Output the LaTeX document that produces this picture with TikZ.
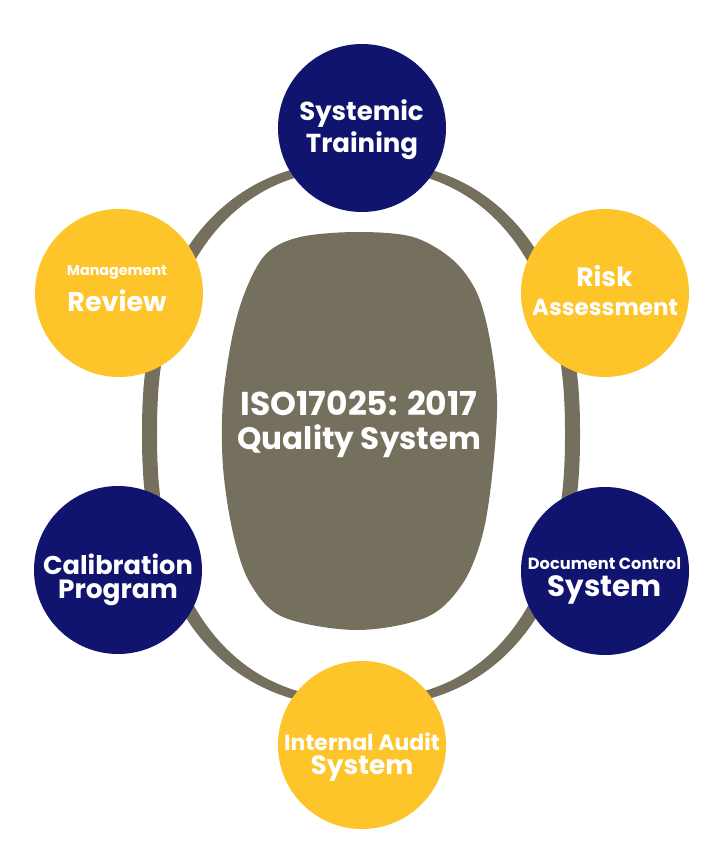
\documentclass[tikz,border=0pt]{standalone}
\usepackage{fontspec}
\setmainfont{Poppins}
\definecolor{navy}{HTML}{10146F}
\definecolor{gold}{HTML}{FDC52A}
\definecolor{olive}{HTML}{75705E}
\tikzset{
  bubble/.style={circle, minimum size=168pt, inner sep=0pt},
  navyb/.style={bubble, fill=navy},
  goldb/.style={bubble, fill=gold},
  lbl/.style={anchor=base, inner sep=0pt, text=white, font=\bfseries},
}
\newcommand{\fs}[1]{\fontsize{#1}{#1}\selectfont}
\begin{document}
\begin{tikzpicture}[x=1pt,y=-1pt]
\useasboundingbox (0,0) rectangle (720,864);
\fill[white] (0,0) rectangle (720,864);
% ring: outer and inner superellipses, even-odd fill
\fill[olive, even odd rule]
  plot[domain=0.6:360.6, samples=300, variable=\t]
   ({361+219*sign(cos(\t))*abs(cos(\t))^(0.8696)}, {434+273*sign(sin(\t))*abs(sin(\t))^(0.8696)}) -- cycle
  plot[domain=0.6:360.6, samples=300, variable=\t]
   ({361+204*sign(cos(\t))*abs(cos(\t))^(0.8696)}, {434+265*sign(sin(\t))*abs(sin(\t))^(0.8696)}) -- cycle;
% central blob
\fill[olive] plot[smooth cycle, tension=0.55] coordinates {
  (357,232) (413,237) (453,260) (477,293) (490,340) (497,400) (493,467) (483,533)
  (463,583) (427,617) (357,630) (283,617) (250,583) (233,533) (223,467) (223,400)
  (233,333) (247,287) (267,253) (300,237)};
\node[lbl] (coreA) at (359,415) {\fs{33}ISO17025: 2017};
\node[lbl] (coreB) at (359.5,449) {\fs{31}Quality System};
% bubbles
\node[navyb] (train) at (362,128) {};
\node[goldb] (mgmt)  at (119,293) {};
\node[goldb] (risk)  at (605,293) {};
\node[navyb] (cal)   at (118,570) {};
\node[navyb] (doc)   at (605,571) {};
\node[goldb] (audit) at (362,745) {};
% labels
\node[lbl] (trainA) at (361.5,121) {\fs{26}Systemic};
\node[lbl] (trainB) at (362,152) {\fs{26}Training};
\node[lbl] (mgmtA)  at (117,275) {\fs{14.3}Management};
\node[lbl] (mgmtB)  at (117,311) {\fs{27}Review};
\node[lbl] (riskA)  at (604.5,286) {\fs{26.5}Risk};
\node[lbl] (riskB)  at (605,315) {\fs{23}Assessment};
\node[lbl] (calA)   at (118,574) {\fs{25.7}Calibration};
\node[lbl] (calB)   at (118,598) {\fs{26.4}Program};
\node[lbl] (docA)   at (604.5,569) {\fs{16.2}Document Control};
\node[lbl] (docB)   at (604.5,596.5) {\fs{29.3}System};
\node[lbl] (auditA) at (362,750) {\fs{22}Internal Audit};
\node[lbl] (auditB) at (362,774.5) {\fs{26.4}System};
\end{tikzpicture}
\end{document}
